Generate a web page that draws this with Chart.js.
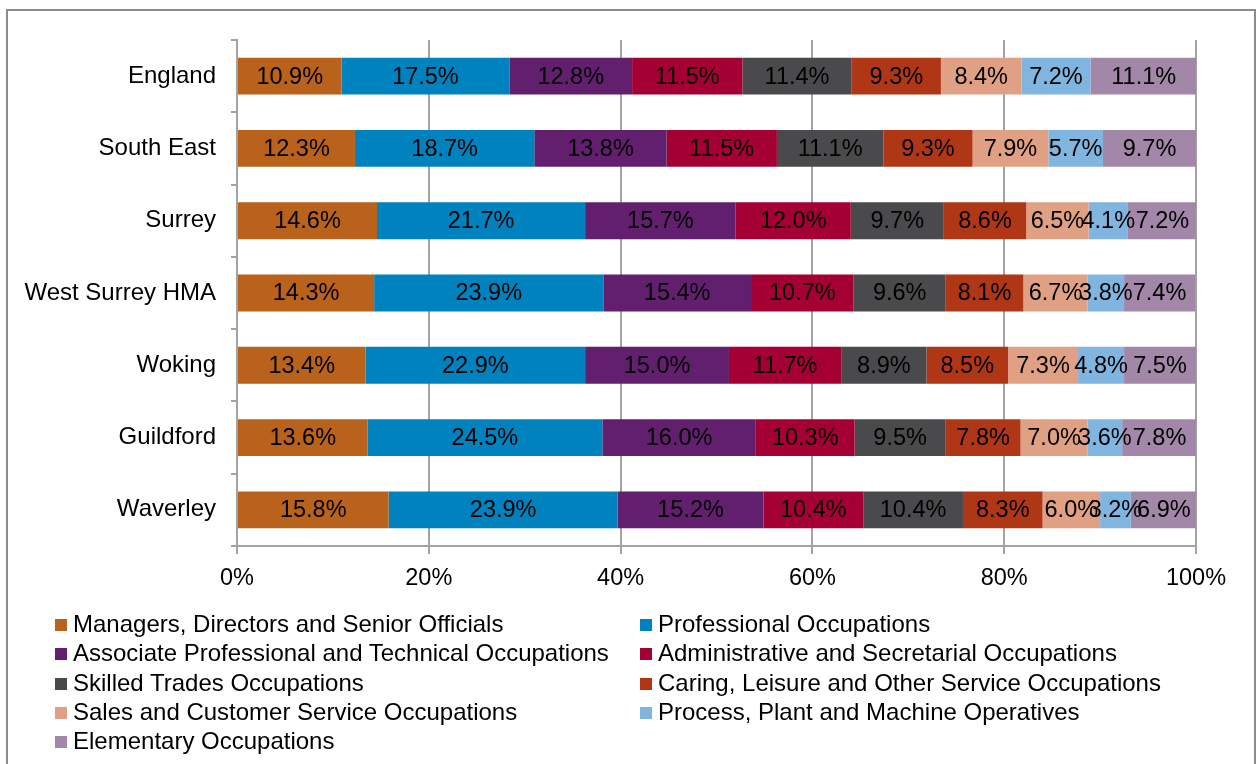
<!DOCTYPE html>
<html>
<head>
<meta charset="utf-8">
<script src="https://cdn.jsdelivr.net/npm/chart.js@4"></script>
<style>
  body { margin: 0; background: #fff; }
  #wrap { position: relative; width: 1260px; height: 764px; overflow: hidden; font-family: "Liberation Sans", Arial, sans-serif; }
  #frame { position: absolute; left: 6px; top: 9px; width: 1246px; height: 800px; border: 2px solid #8c8c8c; }
  #myChart { position: absolute; left: 0; top: 0; }
  #legend { position: absolute; left: 55px; top: 609px; width: 1180px; }
  .item { position: absolute; height: 29px; line-height: 29px; font-size: 24px; color: #000; white-space: nowrap; }
  .item span.box { display: inline-block; width: 12px; height: 12px; margin-right: 6px; vertical-align: 1px; }
</style>
</head>
<body>
<div id="wrap">
  <div id="frame"></div>
  <canvas id="myChart" width="1260" height="764"></canvas>
  <div id="legend"></div>
</div>
<script>
const areas = ['England', 'South East', 'Surrey', 'West Surrey HMA', 'Woking', 'Guildford', 'Waverley'];

const managers     = [10.9, 12.3, 14.6, 14.3, 13.4, 13.6, 15.8];
const professional = [17.5, 18.7, 21.7, 23.9, 22.9, 24.5, 23.9];
const associate    = [12.8, 13.8, 15.7, 15.4, 15.0, 16.0, 15.2];
const admin        = [11.5, 11.5, 12.0, 10.7, 11.7, 10.3, 10.4];
const skilled      = [11.4, 11.1, 9.7, 9.6, 8.9, 9.5, 10.4];
const caring       = [9.3, 9.3, 8.6, 8.1, 8.5, 7.8, 8.3];
const sales        = [8.4, 7.9, 6.5, 6.7, 7.3, 7.0, 6.0];
const process      = [7.2, 5.7, 4.1, 3.8, 4.8, 3.6, 3.2];
const elementary   = [11.1, 9.7, 7.2, 7.4, 7.5, 7.8, 6.9];

const xTicks = [0, 20, 40, 60, 80, 100];

const seriesNames = [
  'Managers, Directors and Senior Officials',
  'Professional Occupations',
  'Associate Professional and Technical Occupations',
  'Administrative and Secretarial Occupations',
  'Skilled Trades Occupations',
  'Caring, Leisure and Other Service Occupations',
  'Sales and Customer Service Occupations',
  'Process, Plant and Machine Operatives',
  'Elementary Occupations'
];
const seriesData = [managers, professional, associate, admin, skilled, caring, sales, process, elementary];
const colours = ['#b9621b', '#0082be', '#621f6e', '#a50034', '#4a4a4c', '#b03715', '#e0a083', '#80b5e0', '#a287a8'];

const font = '"Liberation Sans", Arial, sans-serif';
const gridGrey = '#a3a3a3';

// labels in the middle of each segment
const barLabels = {
  id: 'barLabels',
  afterDatasetsDraw(chart) {
    const ctx = chart.ctx;
    ctx.save();
    ctx.font = '23.5px ' + font;
    ctx.fillStyle = '#000';
    ctx.textAlign = 'center';
    ctx.textBaseline = 'middle';
    chart.data.datasets.forEach((ds, i) => {
      const meta = chart.getDatasetMeta(i);
      meta.data.forEach((bar, j) => {
        const p = bar.getProps(['x', 'y', 'base'], true);
        ctx.fillText(ds.data[j].toFixed(1) + '%', (p.x + p.base) / 2, p.y + 1);
      });
    });
    ctx.restore();
  }
};

const initChart = () => {
  const ctx = document.getElementById('myChart').getContext('2d');
  const chart = new Chart(ctx, {
    type: 'bar',
    data: {
      labels: areas,
      datasets: seriesNames.map((name, i) => ({
        label: name,
        data: seriesData[i],
        backgroundColor: colours[i],
        borderWidth: 0,
        categoryPercentage: 1,
        barPercentage: 0.51
      }))
    },
    options: {
      indexAxis: 'y',
      responsive: false,
      animation: false,
      devicePixelRatio: 1,
      layout: { padding: { top: 40, right: 64, left: 0, bottom: 0 } },
      plugins: { legend: { display: false }, tooltip: { enabled: false } },
      scales: {
        x: {
          stacked: true,
          min: 0,
          max: 100,
          afterBuildTicks: (scale) => { scale.ticks = xTicks.map(v => ({ value: v })); },
          afterFit: (scale) => { scale.height = 218; },
          grid: { color: gridGrey, lineWidth: 2, tickLength: 8, drawTicks: true },
          border: { color: gridGrey, width: 2 },
          ticks: { color: '#000', font: { family: font, size: 23.5 }, padding: 10, callback: v => v + '%' }
        },
        y: {
          stacked: true,
          afterFit: (scale) => { scale.width = 237; },
          grid: { offset: true, drawOnChartArea: false, drawTicks: true, tickLength: 6, color: gridGrey, lineWidth: 2 },
          border: { color: gridGrey, width: 2 },
          ticks: { color: '#000', font: { family: font, size: 24 }, padding: 15 }
        }
      }
    },
    plugins: [barLabels]
  });

  // html legend, two columns
  const legend = document.getElementById('legend');
  chart.data.datasets.forEach((ds, i) => {
    const el = document.createElement('div');
    el.className = 'item';
    el.style.left = (i % 2 === 0 ? 0 : 585) + 'px';
    el.style.top = (Math.floor(i / 2) * 29.3) + 'px';
    el.innerHTML = '<span class="box" style="background:' + ds.backgroundColor + '"></span>' + ds.label;
    legend.appendChild(el);
  });
};

initChart();
</script>
</body>
</html>
